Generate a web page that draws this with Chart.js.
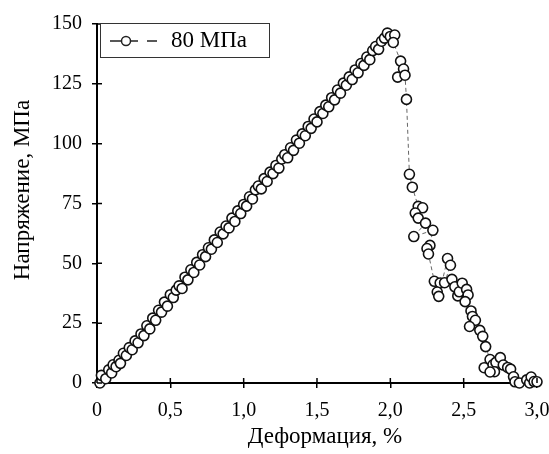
<!DOCTYPE html>
<html>
<head>
<meta charset="utf-8">
<script src="https://cdn.jsdelivr.net/npm/chart.js@4.4.1/dist/chart.umd.min.js"></script>
<style>
  html, body { margin: 0; padding: 0; background: #fff; }
  #wrap { width: 549px; height: 454px; }
</style>
</head>
<body>
<div id="wrap"><canvas id="myChart" width="549" height="454"></canvas></div>
<script>
// series label, axis titles
const seriesLabel = '80 МПа'
const xTitle = 'Деформация, %'
const yTitle = 'Напряжение, МПа'

// strain, % (in drawing order)
const strain = [
  0.02, 0.03, 0.06, 0.08, 0.10, 0.11, 0.13, 0.15, 0.16, 0.18, 0.20, 0.22, 0.24, 0.26, 0.28, 0.30,
  0.32, 0.34, 0.36, 0.38, 0.40, 0.42, 0.44, 0.46, 0.48, 0.50, 0.52, 0.54, 0.56, 0.58, 0.60, 0.62,
  0.64, 0.66, 0.68, 0.70, 0.72, 0.74, 0.76, 0.78, 0.80, 0.82, 0.84, 0.86, 0.88, 0.90, 0.92, 0.94,
  0.96, 0.98, 1.00, 1.02, 1.04, 1.06, 1.08, 1.10, 1.12, 1.14, 1.16, 1.18, 1.20, 1.22, 1.24, 1.26,
  1.28, 1.30, 1.32, 1.34, 1.36, 1.38, 1.40, 1.42, 1.44, 1.46, 1.48, 1.50, 1.52, 1.54, 1.56, 1.58,
  1.60, 1.62, 1.64, 1.66, 1.68, 1.70, 1.72, 1.74, 1.76, 1.78, 1.80, 1.82, 1.84, 1.86, 1.88, 1.90,
  1.92, 1.94, 1.96, 1.98,
  2.00, 2.03, 2.02, 2.07, 2.09, 2.05, 2.10, 2.11, 2.13, 2.15, 2.19, 2.22, 2.17, 2.19, 2.24, 2.16,
  2.29, 2.27, 2.25, 2.26, 2.30, 2.34, 2.32, 2.33, 2.39, 2.41, 2.37, 2.42, 2.44, 2.46, 2.47, 2.49,
  2.52, 2.53, 2.51, 2.55, 2.56, 2.58, 2.54, 2.61, 2.63, 2.65, 2.68, 2.64, 2.70, 2.72, 2.75, 2.77,
  2.71, 2.68, 2.80, 2.82, 2.84, 2.85, 2.88, 2.93, 2.95, 2.96, 2.98, 3.00
]

// stress, MPa
const stress = [
  0.0, 3.2, 1.8, 5.5, 4.2, 7.6, 6.8, 9.5, 8.2, 12.4, 11.5, 14.8, 13.9, 17.6, 16.8, 20.5,
  19.8, 23.9, 22.6, 27.1, 26.2, 30.4, 29.6, 33.8, 32.1, 36.9, 35.7, 38.8, 40.6, 39.5, 44.2, 43.1,
  47.3, 46.2, 50.4, 49.3, 53.6, 52.8, 56.5, 55.9, 59.8, 58.7, 63.1, 62.3, 65.6, 64.8, 68.9, 67.5,
  71.9, 70.8, 74.6, 73.9, 77.8, 76.9, 80.7, 82.3, 81.1, 85.4, 84.2, 88.1, 87.5, 90.9, 89.8, 93.6,
  95.4, 94.1, 98.3, 97.2, 101.5, 100.2, 104.1, 103.3, 107.2, 106.4, 110.3, 109.1, 113.4, 112.6, 116.1, 115.4,
  119.2, 118.3, 122.4, 121.1, 125.3, 124.4, 127.9, 126.8, 130.8, 129.6, 133.5, 132.7, 136.2, 135.1, 138.9, 140.6,
  139.4, 142.8, 144.1, 146.2,
  144.8, 145.4, 142.3, 134.5, 131.2, 127.8, 128.6, 118.5, 87.2, 81.8, 73.8, 73.2, 71.0, 68.9, 66.8, 61.2,
  63.8, 57.5, 56.2, 53.9, 42.5, 41.8, 38.0, 36.2, 52.0, 49.2, 41.9, 43.3, 40.2, 36.4, 38.1, 41.7,
  39.1, 36.8, 34.0, 30.1, 27.8, 26.2, 23.6, 22.0, 19.5, 15.2, 9.8, 6.4, 7.6, 8.6, 10.6, 7.5,
  4.7, 4.6, 6.5, 5.8, 2.6, 0.5, 0.0, 1.3, 0.0, 2.5, 0.6, 0.5
]

const points = strain.map((x, i) => ({ x: x, y: stress[i] }))
const serif = '"Liberation Serif", "DejaVu Serif", serif'

// inner half of the tick marks, axis titles and the boxed legend
const extras = {
  id: 'extras',
  afterDraw(chart) {
    const ctx = chart.ctx
    const a = chart.chartArea
    const xs = chart.scales.x, ys = chart.scales.y
    ctx.save()
    ctx.strokeStyle = '#000'
    ctx.lineWidth = 1.5
    ctx.beginPath()
    xs.ticks.forEach(t => {
      const px = xs.getPixelForValue(t.value)
      ctx.moveTo(px, a.bottom); ctx.lineTo(px, a.bottom - 5)
    })
    ys.ticks.forEach(t => {
      const py = ys.getPixelForValue(t.value)
      ctx.moveTo(a.left, py); ctx.lineTo(a.left + 5, py)
    })
    ctx.stroke()

    // axis titles
    ctx.fillStyle = '#000'
    ctx.font = '23px ' + serif
    ctx.textAlign = 'center'
    ctx.textBaseline = 'middle'
    ctx.fillText(xTitle, (a.left + a.right) / 2 + 8, 437)
    ctx.save()
    ctx.translate(23, 190)
    ctx.rotate(-Math.PI / 2)
    ctx.fillText(yTitle, 0, 0)
    ctx.restore()

    // legend
    const L = a.left + 3, T = a.top - 1, W = 169, H = 34
    ctx.fillStyle = '#fff'
    ctx.fillRect(L, T, W, H)
    ctx.strokeStyle = '#333'
    ctx.lineWidth = 1
    ctx.strokeRect(L + 0.5, T + 0.5, W, H)
    const cy = T + H / 2 + 1
    ctx.lineWidth = 1.3
    ctx.strokeStyle = '#222'
    ctx.beginPath()
    ctx.moveTo(L + 10, cy); ctx.lineTo(L + 22, cy)
    ctx.moveTo(L + 30, cy); ctx.lineTo(L + 38, cy)
    ctx.moveTo(L + 47, cy); ctx.lineTo(L + 57, cy)
    ctx.stroke()
    ctx.beginPath()
    ctx.arc(L + 26, cy, 4.5, 0, Math.PI * 2)
    ctx.fillStyle = '#fff'
    ctx.fill()
    ctx.lineWidth = 1.5
    ctx.stroke()
    ctx.fillStyle = '#000'
    ctx.font = '23px ' + serif
    ctx.textAlign = 'left'
    ctx.fillText(chart.data.datasets[0].label, L + 71, cy)
    ctx.restore()
  }
}

new Chart(document.getElementById('myChart'), {
  type: 'scatter',
  data: {
    datasets: [{
      label: seriesLabel,
      data: points,
      showLine: true,
      borderColor: '#666',
      borderWidth: 1,
      borderDash: [4, 3],
      pointRadius: 5,
      pointBorderWidth: 1.6,
      pointBorderColor: '#111',
      pointBackgroundColor: '#fff',
      clip: false
    }]
  },
  options: {
    responsive: false,
    animation: false,
    layout: { padding: { top: 24, right: 12, left: 0, bottom: 0 } },
    plugins: { legend: { display: false }, tooltip: { enabled: false } },
    scales: {
      x: {
        type: 'linear',
        min: 0, max: 3,
        afterFit(scale) { scale.height = 71; scale.paddingRight = 0; scale.paddingLeft = 0 },
        border: { color: '#000', width: 2 },
        grid: { drawOnChartArea: false, drawTicks: true, tickLength: 5, tickColor: '#000', lineWidth: 1.5 },
        ticks: {
          stepSize: 0.5,
          color: '#000',
          padding: 11,
          font: { family: serif, size: 20 },
          callback: v => v === 0 ? '0' : v.toFixed(1).replace('.', ',')
        }
      },
      y: {
        min: 0, max: 150,
        afterFit(scale) { scale.width = 97; scale.paddingTop = 0 },
        border: { color: '#000', width: 2 },
        grid: { drawOnChartArea: false, drawTicks: true, tickLength: 5, tickColor: '#000', lineWidth: 1.5 },
        ticks: {
          stepSize: 25,
          color: '#000',
          padding: 10,
          font: { family: serif, size: 20 }
        }
      }
    }
  },
  plugins: [extras]
})
</script>
</body>
</html>
